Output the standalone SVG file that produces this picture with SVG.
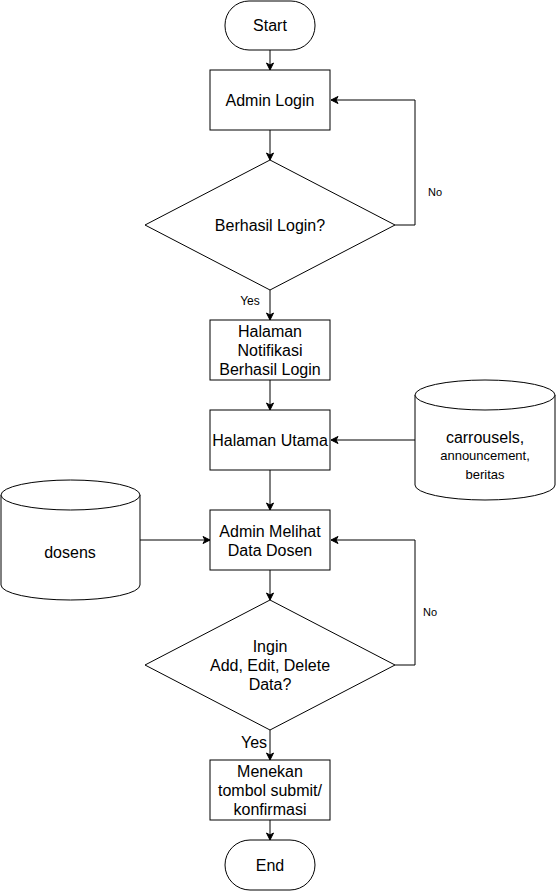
<svg xmlns="http://www.w3.org/2000/svg" width="557" height="892" viewBox="0 0 557 892">
<defs>
<marker id="arr" markerWidth="10" markerHeight="10" refX="8" refY="5" orient="auto" markerUnits="userSpaceOnUse">
<path d="M1,1.5 L8,5 L1,8.5 L3,5 Z" fill="#000" stroke="#000" stroke-width="1"/>
</marker>
</defs>
<style>
.s{fill:#fff;stroke:#000;stroke-width:1}
.t{font-family:"Liberation Sans",Arial,sans-serif;font-size:16px;fill:#000;text-anchor:middle;dominant-baseline:central}
.sm{font-size:11px}
.md{font-size:13px}
.c{fill:none;stroke:#000;stroke-width:1;marker-end:url(#arr)}
</style>
<rect width="557" height="892" fill="#fff"/>
<g id="connectors">
<path class="c" d="M270,50 V70"/>
<path class="c" d="M270,130 V160"/>
<path class="c" d="M395,225 H415 V100 H331"/>
<path class="c" d="M270,290 V320"/>
<path class="c" d="M270,380 V410"/>
<path class="c" d="M415,440 H331"/>
<path class="c" d="M270,470 V510"/>
<path class="c" d="M140,540 H210"/>
<path class="c" d="M270,570 V600"/>
<path class="c" d="M395,665 H415 V540 H331"/>
<path class="c" d="M270,730 V760"/>
<path class="c" d="M270,820 V840"/>
<text class="t sm" x="435" y="192">No</text>
<text class="t sm" x="250" y="301" style="font-size:12px">Yes</text>
<text class="t sm" x="430" y="612">No</text>
<rect x="239" y="733" width="30" height="18" fill="#fff"/>
<text class="t" x="254" y="742">Yes</text>
</g>
<g id="start">
<rect class="s" x="225" y="1" width="90" height="49" rx="24" ry="24"/>
<text class="t" x="270" y="25.5">Start</text>
</g>
<g id="admin-login">
<rect class="s" x="210" y="70" width="120" height="60"/>
<text class="t" x="270" y="100">Admin Login</text>
</g>
<g id="berhasil-login">
<polygon class="s" points="270,160 395,225 270,290 145,225"/>
<text class="t" x="270" y="225">Berhasil Login?</text>
</g>
<g id="halaman-notifikasi">
<rect class="s" x="210" y="320" width="120" height="60"/>
<text class="t" x="270" y="331">Halaman</text>
<text class="t" x="270" y="350">Notifikasi</text>
<text class="t" x="270" y="369">Berhasil Login</text>
</g>
<g id="halaman-utama">
<rect class="s" x="210" y="410" width="120" height="60"/>
<text class="t" x="270" y="440">Halaman Utama</text>
</g>
<g id="carrousels">
<path class="s" d="M415,395 A70,15 0 0 1 555,395 V485 A70,15 0 0 1 415,485 Z"/>
<path class="s" fill="none" d="M415,395 A70,15 0 0 0 555,395"/>
<text class="t" x="485" y="437">carrousels,</text>
<text class="t md" x="485" y="455">announcement,</text>
<text class="t md" x="485" y="474">beritas</text>
</g>
<g id="admin-melihat">
<rect class="s" x="210" y="510" width="120" height="60"/>
<text class="t" x="270" y="531">Admin Melihat</text>
<text class="t" x="270" y="550">Data Dosen</text>
</g>
<g id="dosens">
<path class="s" d="M1,495 A69.5,15 0 0 1 140,495 V585 A69.5,15 0 0 1 1,585 Z"/>
<path class="s" fill="none" d="M1,495 A69.5,15 0 0 0 140,495"/>
<text class="t" x="70" y="552">dosens</text>
</g>
<g id="ingin">
<polygon class="s" points="270,600 395,665 270,730 145,665"/>
<text class="t" x="270" y="646">Ingin</text>
<text class="t" x="270" y="665">Add, Edit, Delete</text>
<text class="t" x="270" y="684">Data?</text>
</g>
<g id="menekan">
<rect class="s" x="210" y="760" width="120" height="60"/>
<text class="t" x="270" y="771">Menekan</text>
<text class="t" x="270" y="790">tombol submit/</text>
<text class="t" x="270" y="809">konfirmasi</text>
</g>
<g id="end">
<rect class="s" x="225" y="840" width="90" height="50" rx="25" ry="25"/>
<text class="t" x="270" y="865">End</text>
</g>
</svg>
